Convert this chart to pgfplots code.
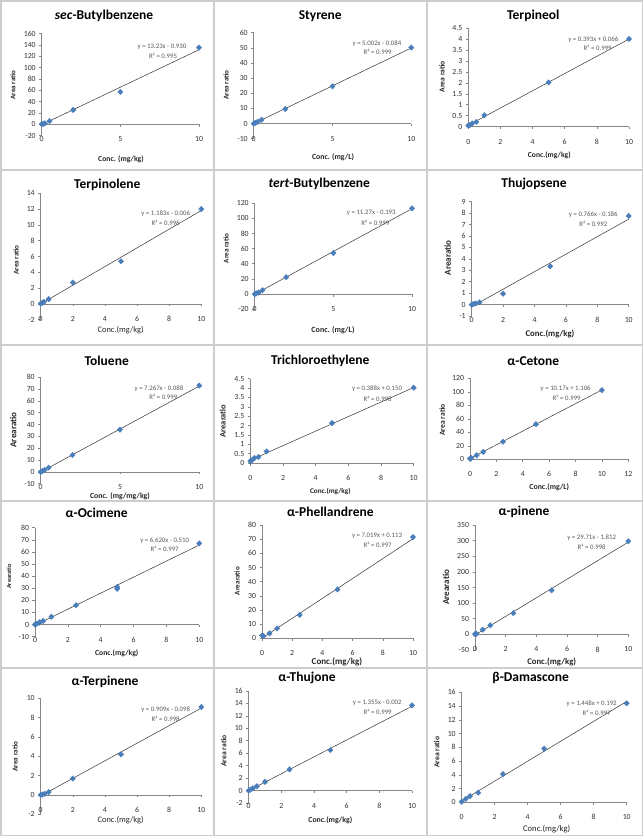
\documentclass[border=0pt]{standalone}
\usepackage{fontspec}
\setmainfont{Carlito}
\usepackage{pgfplots}
\pgfplotsset{compat=1.18}
\definecolor{excelblue}{RGB}{74,126,187}
\definecolor{axisgray}{RGB}{134,134,134}
\definecolor{cellgray}{RGB}{205,205,205}
\pgfplotsset{
  cal/.style={
    scale only axis, anchor=south west, clip=false,
    axis y line*=left, axis x line*=middle,
    hide obscured x ticks=false, hide obscured y ticks=false,
    x axis line style={draw=axisgray, line width=0.6pt, -},
    y axis line style={draw=axisgray, line width=0.6pt, -},
    xtick style={draw=axisgray, line width=0.6pt},
    ytick style={draw=axisgray, line width=0.6pt},
    tick align=outside, major tick length=2.5pt,
    ticklabel style={font=\fontsize{7.8}{8}\selectfont, text=black!80},
    xticklabel style={anchor=center, yshift=-12.5pt},
    /pgf/number format/assume math mode=true,
    scaled y ticks=false,
    xmin=0, xmax=10,
  },
  pts/.style={only marks, mark=diamond*, mark size=2.7pt, color=excelblue, mark options={xscale=1.3}},
  trend/.style={no marks, draw=black!80, line width=0.5pt},
}
\newcommand{\ttl}[3]{\node[font=\fontsize{13.5}{15}\selectfont\bfseries] at (#1pt,-#2pt) {#3};}
\newcommand{\xl}[4][7.8]{\node[font=\fontsize{#1}{9}\selectfont\bfseries, text=black!85] at (#2pt,-#3pt) {#4};}
\newcommand{\xr}[4][7.8]{\node[font=\fontsize{#1}{9}\selectfont, text=black!85] at (#2pt,-#3pt) {#4};}
\newcommand{\yl}[4][7.2]{\node[rotate=90, font=\fontsize{#1}{9}\selectfont\bfseries, text=black!85] at (#2pt,-#3pt) {#4};}
\newcommand{\eqn}[3]{\node[font=\fontsize{6.8}{8}\selectfont, text=black!65] at (#1pt,-#2pt) {#3};}
\begin{document}
\begin{tikzpicture}
\useasboundingbox (0,0) rectangle (643pt,-836pt);
\fill[white] (0,0) rectangle (643pt,-836pt);
% cell frames
\draw[cellgray, line width=1.5pt] (0.75pt,-0.75pt) rectangle (642.25pt,-835.25pt);
\draw[cellgray, line width=1.5pt] (214pt,0pt) -- (214pt,-836pt);
\draw[cellgray, line width=1.5pt] (427pt,0pt) -- (427pt,-836pt);
\foreach \yy in {170,345,501,668} {\draw[cellgray, line width=1.5pt] (0pt,-\yy pt) -- (643pt,-\yy pt);}

% ---------- Row 1 ----------
% sec-Butylbenzene
\begin{axis}[cal, at={(41.7pt,-135.5pt)}, width=157.3pt, height=102pt,
  ymin=-20, ymax=160, ytick distance=20, xtick={0,5,10}]
\addplot[pts] coordinates {(0,0) (0.1,0.5) (0.2,1.5) (0.5,5.5) (2,25) (5,57) (10,135)};
\addplot[trend] coordinates {(0,-0.930) (10,131.37)};
\end{axis}
\ttl{104}{16}{\textit{sec}-Butylbenzene}
\xl[7.7]{121}{159}{Conc. (mg/kg)}
\yl[7]{13}{85}{Area ratio}
\eqn{162}{46.7}{y = 13.23x - 0.930}
\eqn{163}{56}{R² = 0.995}

% Styrene
\begin{axis}[cal, at={(253.7pt,-138.7pt)}, width=157.6pt, height=106pt,
  ymin=-10, ymax=60, ytick distance=10, xtick={0,5,10}]
\addplot[pts] coordinates {(0,0) (0.1,0.5) (0.25,1.2) (0.5,2.5) (2,9.6) (5,24.6) (10,50.2)};
\addplot[trend] coordinates {(0,-0.084) (10,49.936)};
\end{axis}
\ttl{320.3}{16}{Styrene}
\xl[7.8]{333}{157.3}{Conc. (mg/L)}
\yl[7.2]{226}{85}{Area ratio}
\eqn{377}{44}{y = 5.002x - 0.084}
\eqn{377.7}{51.7}{R² = 0.999}

% Terpineol
\begin{axis}[cal, at={(468.3pt,-126.7pt)}, width=160.7pt, height=98.7pt,
  ymin=0, ymax=4.5, ytick={0,0.5,1,1.5,2,2.5,3,3.5,4,4.5}, xtick={0,2,4,6,8,10}]
\addplot[pts] coordinates {(0,0.05) (0.1,0.08) (0.25,0.15) (0.5,0.22) (1,0.52) (5,2.02) (10,4.0)};
\addplot[trend] coordinates {(0,0.066) (10,3.996)};
\end{axis}
\ttl{533.3}{16}{Terpineol}
\xl[7.6]{549.3}{155.3}{Conc.(mg/kg)}
\yl[7.6]{442}{76.7}{Area ratio}
\eqn{593.3}{40}{y = 0.393x + 0.066}
\eqn{597.7}{47.7}{R² = 0.999}

% ---------- Row 2 ----------
% Terpinolene
\begin{axis}[cal, at={(40.7pt,-319.7pt)}, width=160.6pt, height=126.4pt,
  ymin=-2, ymax=14, ytick distance=2, xtick={0,2,4,6,8,10}]
\addplot[pts] coordinates {(0,0.05) (0.1,0.15) (0.2,0.25) (0.5,0.6) (2,2.7) (5,5.4) (10,12.0)};
\addplot[trend] coordinates {(0,-0.006) (10,11.824)};
\end{axis}
\ttl{107.3}{185}{Terpinolene}
\xr[8.4]{120.7}{330}{Conc.(mg/kg)}
\yl[7.2]{16}{260}{Area ratio}
\eqn{165.7}{213.7}{y = 1.183x - 0.006}
\eqn{165.7}{222.7}{R² = 0.996}

% tert-Butylbenzene
\begin{axis}[cal, at={(254.7pt,-309.3pt)}, width=157.3pt, height=106.3pt,
  ymin=-20, ymax=120, ytick distance=20, xtick={0,5,10}]
\addplot[pts] coordinates {(0,0) (0.1,1) (0.25,2.2) (0.5,5.2) (2,22.3) (5,54.2) (10,113)};
\addplot[trend] coordinates {(0,-0.193) (10,112.507)};
\end{axis}
\ttl{319.3}{184.3}{\textit{tert}-Butylbenzene}
\xl[8]{333}{330}{Conc. (mg/L)}
\yl[7.2]{226}{248.3}{Area ratio}
\eqn{371.3}{213.3}{y = 11.27x - 0.193}
\eqn{375.3}{223.3}{R² = 0.999}

% Thujopsene
\begin{axis}[cal, at={(471.7pt,-316pt)}, width=157pt, height=114.3pt,
  ymin=-1, ymax=9, ytick distance=1, xtick={0,2,4,6,8,10}]
\addplot[pts] coordinates {(0,0) (0.1,0.05) (0.25,0.1) (0.5,0.2) (2,0.95) (5,3.35) (10,7.75)};
\addplot[trend] coordinates {(0,-0.186) (10,7.474)};
\end{axis}
\ttl{534}{184.3}{Thujopsene}
\xl[8.7]{550}{334.3}{Conc.(mg/kg)}
\yl[9]{447.7}{257.7}{Arearatio}
\eqn{593.3}{215}{y = 0.766x - 0.186}
\eqn{593.3}{224.3}{R² = 0.992}

% ---------- Row 3 ----------
% Toluene
\begin{axis}[cal, at={(40.7pt,-483.7pt)}, width=158.6pt, height=106.4pt,
  ymin=-10, ymax=80, ytick distance=10, xtick={0,5,10}]
\addplot[pts] coordinates {(0,0) (0.1,0.6) (0.25,1.6) (0.5,3.6) (2,14.2) (5,35.8) (10,73)};
\addplot[trend] coordinates {(0,-0.088) (10,72.582)};
\end{axis}
\ttl{106.7}{361}{Toluene}
\xl[7.8]{120}{496}{Conc. (mg/mg/kg)}
\yl[9]{13.3}{430}{Arearatio}
\eqn{159}{388.3}{y = 7.267x - 0.088}
\eqn{163.3}{397.3}{R² = 0.999}

% Trichloroethylene
\begin{axis}[cal, at={(250.3pt,-463pt)}, width=163.4pt, height=84.3pt,
  ymin=0, ymax=4.5, ytick={0,0.5,1,1.5,2,2.5,3,3.5,4,4.5}, xtick={0,2,4,6,8,10}]
\addplot[pts] coordinates {(0,0.1) (0.1,0.15) (0.25,0.27) (0.5,0.32) (1,0.62) (5,2.13) (10,4.02)};
\addplot[trend] coordinates {(0,0.150) (10,4.030)};
\end{axis}
\ttl{320.3}{361}{Trichloroethylene}
\xl[7.2]{330.3}{491}{Conc.(mg/kg)}
\yl[8.4]{222.7}{421}{Arearatio}
\eqn{377}{388.7}{y = 0.388x + 0.150}
\eqn{377.7}{399.3}{R² = 0.998}

% alpha-Cetone
\begin{axis}[cal, at={(470pt,-459.3pt)}, width=158.3pt, height=81pt, xmax=12,
  ymin=0, ymax=120, ytick distance=20, xtick={0,2,4,6,8,10,12}]
\addplot[pts] coordinates {(0,1) (0.1,1.8) (0.5,6) (1,11) (2.5,26) (5,52) (10,102.5)};
\addplot[trend] coordinates {(0,1.106) (10,102.806)};
\end{axis}
\ttl{533.3}{361}{α-Cetone}
\xl[7.8]{549.3}{487.3}{Conc.(mg/L)}
\yl[7.6]{442.3}{420}{Area ratio}
\eqn{565.7}{389}{y = 10.17x + 1.106}
\eqn{566.7}{398.3}{R² = 0.999}

% ---------- Row 4 ----------
% alpha-Ocimene
\begin{axis}[cal, at={(35pt,-636.7pt)}, width=164.3pt, height=109pt,
  ymin=-10, ymax=80, ytick distance=10, xtick={0,2,4,6,8,10}]
\addplot[pts] coordinates {(0,0) (0.1,0.7) (0.25,1.5) (0.3,2) (0.5,3) (1,6.5) (2.5,16) (5,31) (5,29.5) (10,67)};
\addplot[trend] coordinates {(0,-0.510) (10,65.69)};
\end{axis}
\ttl{96.7}{513.3}{α-Ocimene}
\xl[7.7]{116.7}{653.3}{Conc.(mg/kg)}
\yl[6.3]{9}{576.7}{Arearatio}
\eqn{164.7}{540.7}{y = 6.620x - 0.510}
\eqn{164.7}{549}{R² = 0.997}

% alpha-Phellandrene
\begin{axis}[cal, at={(262pt,-638.3pt)}, width=151pt, height=113.3pt,
  ymin=0, ymax=80, ytick distance=10, xtick={0,2,4,6,8,10}]
\addplot[pts] coordinates {(0,2) (0.1,1.5) (0.5,3.5) (1,7) (2.5,16.5) (5,34.5) (10,71.5)};
\addplot[trend] coordinates {(0,0.113) (10,70.303)};
\end{axis}
\ttl{330.3}{511.7}{α-Phellandrene}
\xl[9]{337}{662}{Conc.(mg/kg)}
\yl[7.2]{237}{581}{Arearatio}
\eqn{377}{536}{y = 7.019x + 0.113}
\eqn{377.7}{545}{R² = 0.997}

% alpha-pinene
\begin{axis}[cal, at={(475pt,-650pt)}, width=153.3pt, height=125pt,
  ymin=-50, ymax=350, ytick distance=50, xtick={0,2,4,6,8,10}]
\addplot[pts] coordinates {(0,1) (0.1,2) (0.5,15) (1,29) (2.5,68) (5,141) (10,298)};
\addplot[trend] coordinates {(0,-1.812) (10,295.288)};
\end{axis}
\ttl{524}{512.3}{α-pinene}
\xl[8.7]{551.7}{661.7}{Conc.(mg/kg)}
\yl[9]{446}{587.3}{Arearatio}
\eqn{591.7}{537.3}{y = 29.71x - 1.812}
\eqn{591.7}{546.7}{R² = 0.998}

% ---------- Row 5 ----------
% alpha-Terpinene
\begin{axis}[cal, at={(40.7pt,-814.3pt)}, width=160.6pt, height=116pt,
  ymin=-2, ymax=10, ytick distance=2, xtick={0,2,4,6,8,10}]
\addplot[pts] coordinates {(0,0) (0.1,0.05) (0.25,0.12) (0.5,0.3) (2,1.7) (5,4.2) (10,9.1)};
\addplot[trend] coordinates {(0,-0.098) (10,8.992)};
\end{axis}
\ttl{105}{681.7}{α-Terpinene}
\xr[8.4]{120.7}{820}{Conc.(mg/kg)}
\yl[7.2]{15}{756.7}{Area ratio}
\eqn{165.7}{710}{y = 0.909x - 0.098}
\eqn{165.7}{719.3}{R² = 0.998}

% alpha-Thujone
\begin{axis}[cal, at={(248.7pt,-803pt)}, width=163.3pt, height=112pt,
  ymin=-2, ymax=16, ytick distance=2, xtick={0,2,4,6,8,10}]
\addplot[pts] coordinates {(0,0) (0.1,0.15) (0.25,0.35) (0.5,0.7) (1,1.4) (2.5,3.4) (5,6.5) (10,13.7)};
\addplot[trend] coordinates {(0,-0.002) (10,13.548)};
\end{axis}
\ttl{307}{678}{α-Thujone}
\xl[7.8]{330.3}{820}{Conc.(mg/kg)}
\yl[7.6]{223.7}{751}{Area ratio}
\eqn{377.3}{703.3}{y = 1.355x - 0.002}
\eqn{377.7}{711.7}{R² = 0.999}

% beta-Damascone
\begin{axis}[cal, at={(461.7pt,-802.3pt)}, width=165pt, height=110pt,
  ymin=0, ymax=16, ytick distance=2, xtick={0,2,4,6,8,10}]
\addplot[pts] coordinates {(0,0.1) (0.25,0.5) (0.5,0.9) (1,1.4) (2.5,4.1) (5,7.8) (10,14.4)};
\addplot[trend] coordinates {(0,0.192) (10,14.672)};
\end{axis}
\ttl{530.7}{678.3}{β-Damascone}
\xr[8.6]{546.7}{829}{Conc.(mg/kg)}
\yl[7.6]{436.7}{752.3}{Area ratio}
\eqn{591.7}{703.3}{y = 1.448x + 0.192}
\eqn{596.7}{712.7}{R² = 0.997}
\end{tikzpicture}
\end{document}
